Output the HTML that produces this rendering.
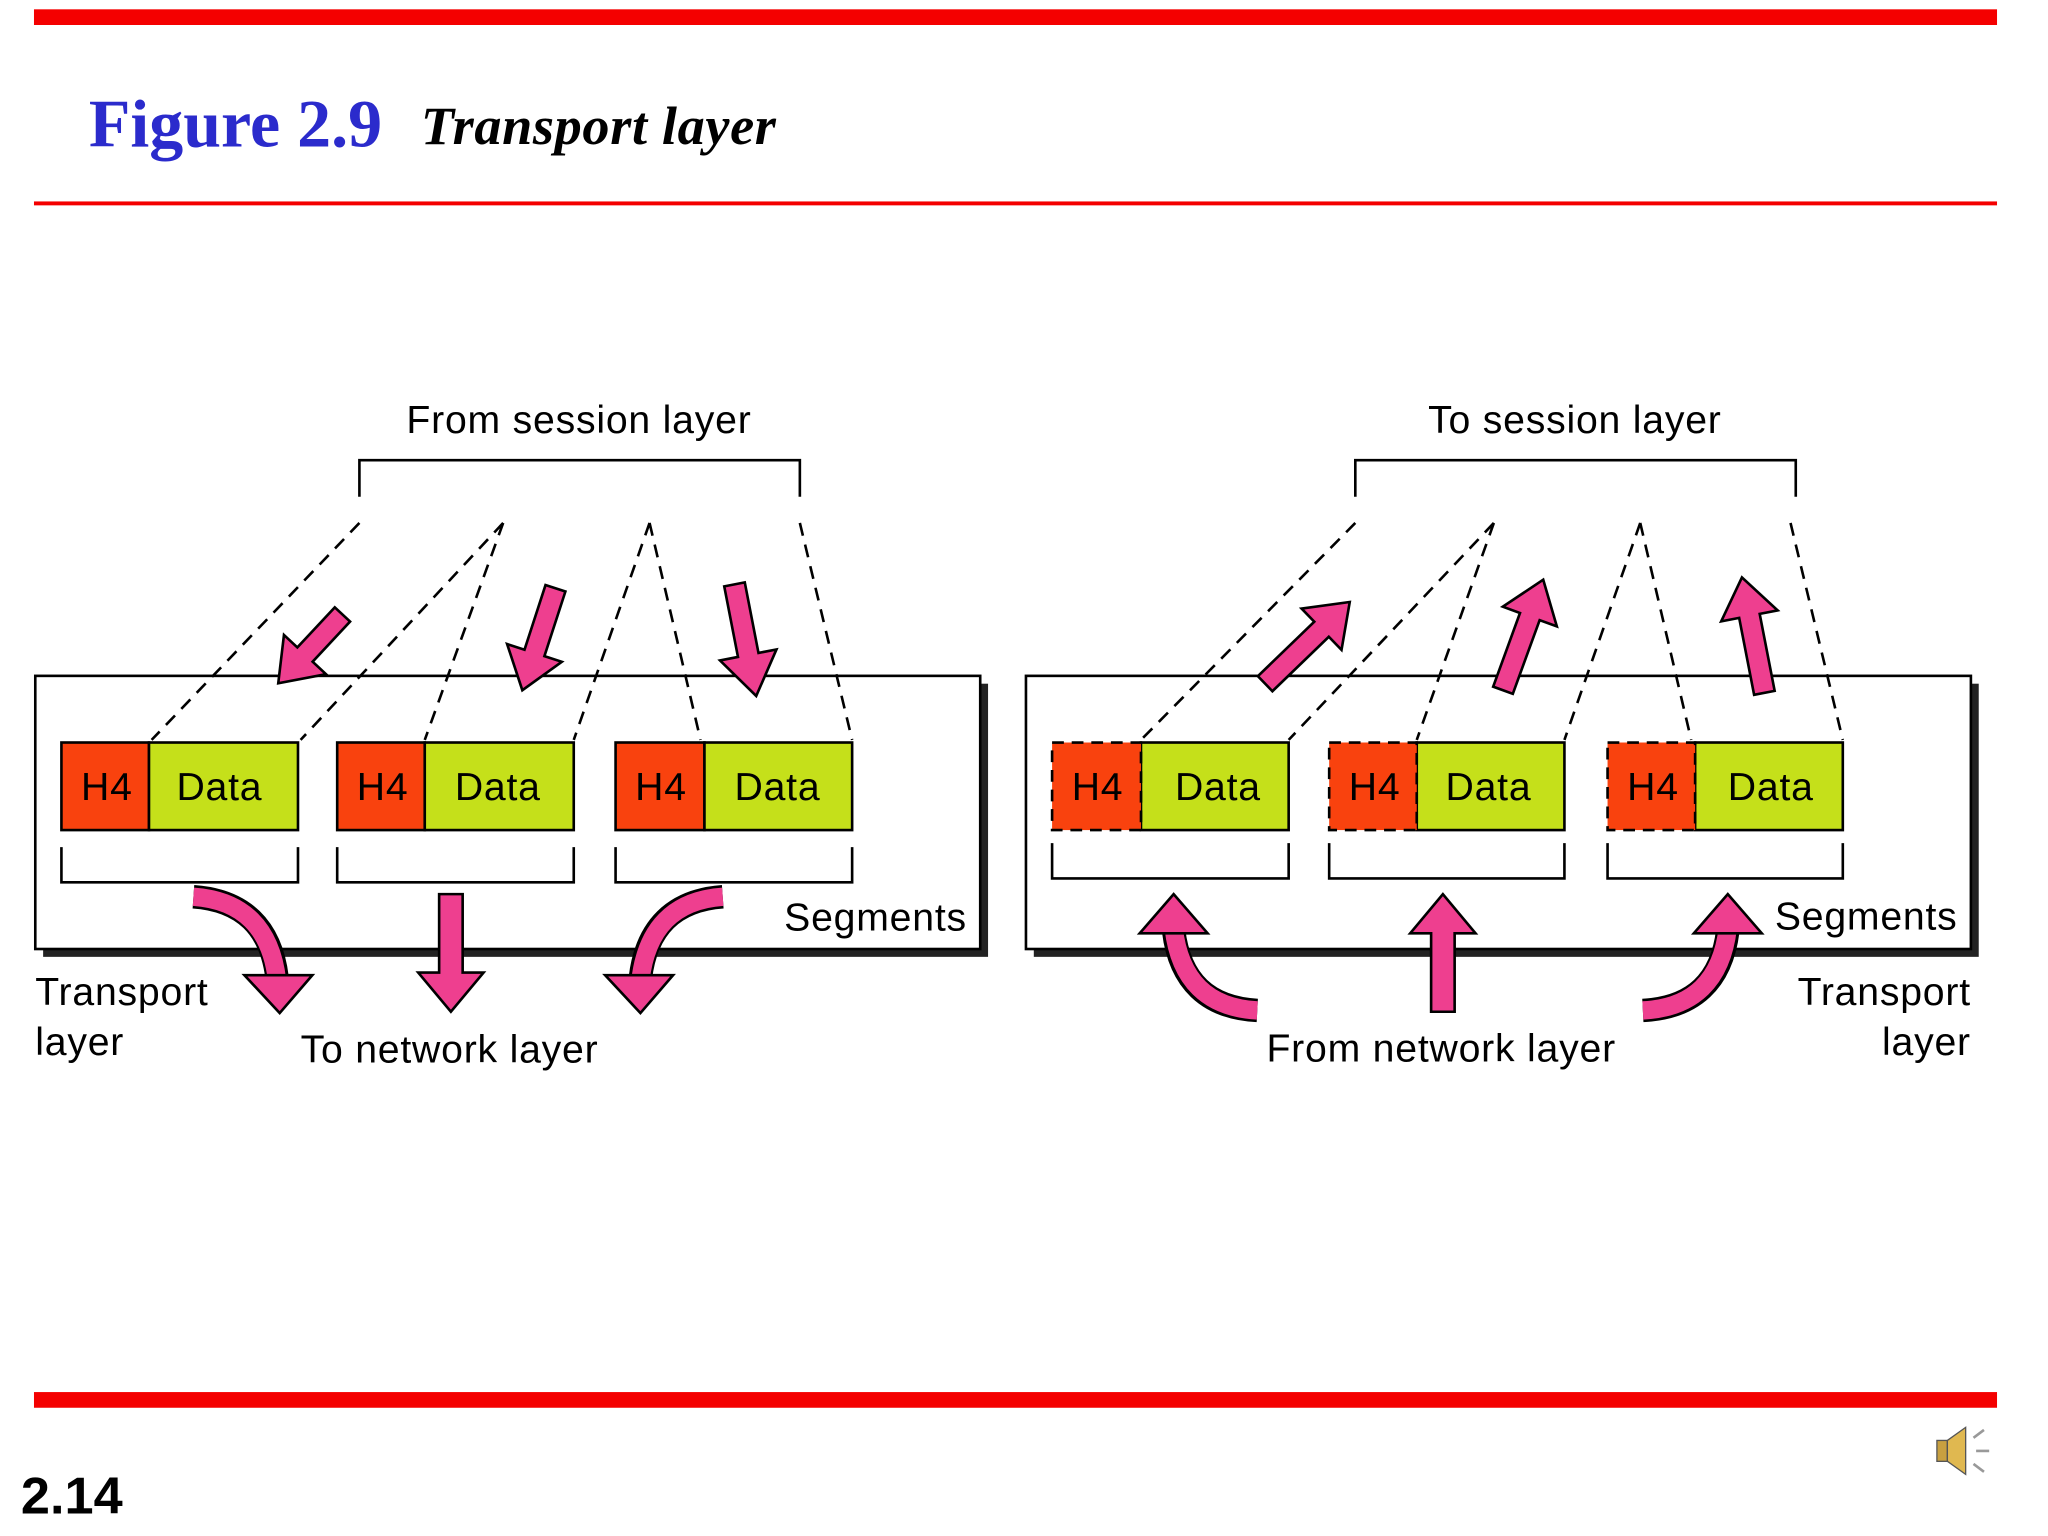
<!DOCTYPE html>
<html><head><meta charset="utf-8"><style>
html,body{margin:0;padding:0;background:#fff;}
svg{display:block;}
text{font-family:"Liberation Sans",sans-serif;}
</style></head><body>
<svg width="2048" height="1536" viewBox="0 0 1567 1175" xmlns="http://www.w3.org/2000/svg">
<rect x="26" y="7" width="1502" height="12" fill="#f40000"/>
<rect x="26" y="154" width="1502" height="3" fill="#f40000"/>
<rect x="26" y="1065" width="1502" height="12" fill="#f40000"/>
<text x="68" y="112" font-weight="bold" font-size="52" fill="#2b2bcc" style="font-family:'Liberation Serif',serif">Figure 2.9</text>
<text x="322" y="110" font-weight="bold" font-style="italic" font-size="41.5" letter-spacing="0.5" fill="#000" style="font-family:'Liberation Serif',serif">Transport layer</text>
<text x="16" y="1158" font-weight="bold" font-size="40" fill="#000">2.14</text>
<g transform="translate(1482,1092)">
<rect x="0" y="10" width="8" height="16" fill="#c8a040" stroke="#555"/>
<polygon points="8,10 22,0 22,36 8,26" fill="#e0b850" stroke="#555"/>
<path d="M28,8 L36,2 M30,18 L40,18 M28,28 L36,34" stroke="#999" stroke-width="2"/>
</g>

<rect x="33" y="523" width="723" height="209" fill="#222"/>
<rect x="27" y="517" width="723" height="209" fill="#fff" stroke="#000" stroke-width="2"/>
<rect x="791" y="523" width="723" height="209" fill="#222"/>
<rect x="785" y="517" width="723" height="209" fill="#fff" stroke="#000" stroke-width="2"/>

<g fill="none" stroke="#000" stroke-width="2">
<path d="M275,380 V352 H612 V380"/>
<path d="M1037,380 V352 H1374 V380"/>
<path d="M47,648 V675 H228 V648 M258,648 V675 H439 V648 M471,648 V675 H652 V648"/>
<path d="M805,645 V672 H986 V645 M1017,645 V672 H1197 V645 M1230,645 V672 H1410 V645"/>
</g>
<g fill="none" stroke="#000" stroke-width="2" stroke-dasharray="10,7">
<path d="M275,400 L116,566 M385,400 L230,566 M385,400 L325,566 M497,400 L439,566 M497,400 L536,566 M612,400 L652,566"/>
<path d="M1037,400 L873,566 M1143,400 L986,566 M1143,400 L1084,566 M1255,400 L1197,566 M1255,400 L1294,566 M1370,400 L1410,566"/>
</g>

<g stroke="#000" stroke-width="2" font-size="30">
<rect x="47" y="568" width="67" height="67" fill="#f9420e"/><rect x="114" y="568" width="114" height="67" fill="#c5e01a"/>
<rect x="258" y="568" width="67" height="67" fill="#f9420e"/><rect x="325" y="568" width="114" height="67" fill="#c5e01a"/>
<rect x="471" y="568" width="68" height="67" fill="#f9420e"/><rect x="539" y="568" width="113" height="67" fill="#c5e01a"/>
<rect x="873" y="568" width="113" height="67" fill="#c5e01a"/>
<rect x="1084" y="568" width="113" height="67" fill="#c5e01a"/>
<rect x="1297" y="568" width="113" height="67" fill="#c5e01a"/>
<rect x="805" y="568" width="68" height="67" fill="#f9420e" stroke-dasharray="9,6"/>
<rect x="1017" y="568" width="67" height="67" fill="#f9420e" stroke-dasharray="9,6"/>
<rect x="1230" y="568" width="67" height="67" fill="#f9420e" stroke-dasharray="9,6"/>
</g>
<g font-size="30" fill="#000" stroke="none" letter-spacing="0.6">
<text x="62" y="612">H4</text><text x="135" y="612">Data</text>
<text x="273" y="612">H4</text><text x="348" y="612">Data</text>
<text x="486" y="612">H4</text><text x="562" y="612">Data</text>
<text x="820" y="612">H4</text><text x="899" y="612">Data</text>
<text x="1032" y="612">H4</text><text x="1106" y="612">Data</text>
<text x="1245" y="612">H4</text><text x="1322" y="612">Data</text>
</g>

<g stroke="#000" stroke-width="2" fill="#ee3f8f" stroke-linejoin="miter">
<g transform="translate(262,470) rotate(133)"><polygon points="0,-8 42,-8 42,-22 72,0 42,22 42,8 0,8"/></g>
<g transform="translate(425,450) rotate(108)"><polygon points="0,-8 52,-8 52,-22 82,0 52,22 52,8 0,8"/></g>
<g transform="translate(562,447) rotate(79)"><polygon points="0,-8 55,-8 55,-22 87,0 55,22 55,8 0,8"/></g>
<g transform="translate(968,523) rotate(-44)"><polygon points="0,-8 60,-8 60,-22 90,0 60,22 60,8 0,8"/></g>
<g transform="translate(1150,528) rotate(-70)"><polygon points="0,-8 60,-8 60,-22 90,0 60,22 60,8 0,8"/></g>
<g transform="translate(1350,530) rotate(-101)"><polygon points="0,-8 60,-8 60,-22 90,0 60,22 60,8 0,8"/></g>
<g transform="translate(345,684) rotate(90)"><polygon points="0,-9 60,-9 60,-25 90,0 60,25 60,9 0,9"/></g>
<g transform="translate(1104,774) rotate(-90)"><polygon points="0,-9 60,-9 60,-25 90,0 60,25 60,9 0,9"/></g>
</g>
<g fill="none" stroke-linecap="butt">
<path d="M148,686 Q205,690 212,748" stroke="#000" stroke-width="18"/>
<path d="M553,686 Q497,690 490,748" stroke="#000" stroke-width="18"/>
<path d="M962,773 Q905,770 898,712" stroke="#000" stroke-width="18"/>
<path d="M1257,773 Q1315,770 1322,712" stroke="#000" stroke-width="18"/>
<path d="M148,686 Q205,690 212,750" stroke="#ee3f8f" stroke-width="14"/>
<path d="M553,686 Q497,690 490,750" stroke="#ee3f8f" stroke-width="14"/>
<path d="M962,773 Q905,770 898,710" stroke="#ee3f8f" stroke-width="14"/>
<path d="M1257,773 Q1315,770 1322,710" stroke="#ee3f8f" stroke-width="14"/>
</g>
<g stroke="#000" stroke-width="2" fill="#ee3f8f">
<polygon points="187,746 239,746 214,775"/>
<polygon points="463,746 515,746 490,775"/>
<polygon points="872,714 924,714 898,684"/>
<polygon points="1296,714 1348,714 1322,684"/>
</g>

<g font-size="30" fill="#000" letter-spacing="0.6">
<text x="443" y="331" text-anchor="middle">From session layer</text>
<text x="1205" y="331" text-anchor="middle">To session layer</text>
<text x="600" y="712">Segments</text>
<text x="1358" y="711">Segments</text>
<text x="27" y="769">Transport</text>
<text x="27" y="807">layer</text>
<text x="230" y="813">To network layer</text>
<text x="1508" y="769" text-anchor="end">Transport</text>
<text x="1508" y="807" text-anchor="end">layer</text>
<text x="969" y="812">From network layer</text>
</g>
</svg>
</body></html>
